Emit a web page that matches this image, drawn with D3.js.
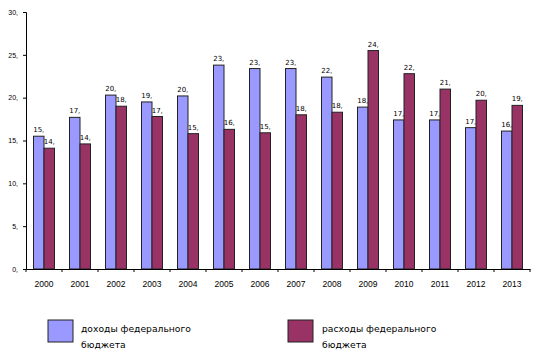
<!DOCTYPE html>
<html><head><meta charset="utf-8">
<script src="https://cdn.jsdelivr.net/npm/d3@7"></script>
<style>body{margin:0;background:#fff}svg{display:block;font-family:"DejaVu Sans",Verdana,sans-serif}</style>
</head><body>
<svg id="c" width="541" height="358"></svg>
<script>
const years = ["2000","2001","2002","2003","2004","2005","2006","2007","2008","2009","2010","2011","2012","2013"];
const revenues = [15.5,17.7,20.3,19.5,20.2,23.8,23.4,23.4,22.4,18.9,17.4,17.4,16.5,16.1];
const expenses = [14.1,14.6,19.0,17.8,15.8,16.3,15.9,18.0,18.3,25.5,22.8,21.0,19.7,19.1];
const revLabels = ["15,","17,","20,","19,","20,","23,","23,","23,","22,","18,","17,","17,","17,","16,"];
const expLabels = ["14,","14,","18,","17,","15,","16,","15,","18,","18,","24,","22,","21,","20,","19,"];
const yTicks = [0,5,10,15,20,25,30];
const seriesNames = [["доходы федерального","бюджета"],["расходы федерального","бюджета"]];
const colors = ["#9999ff","#993366"];

const svg = d3.select("#c");
const x0 = 26, x1 = 530, yTop = 12, yBot = 269;
const x = d3.scaleBand().domain(years).range([x0,x1]);
const y = d3.scaleLinear().domain([0,30]).range([yBot,yTop]);
const bw = 10.5;

// y axis
const ya = svg.append("g").attr("transform",`translate(${x0},0)`)
  .call(d3.axisLeft(y).tickValues(yTicks).tickSize(3).tickFormat(d=>d+","));
ya.select(".domain").attr("stroke","#000");
ya.selectAll("text").attr("font-size",7).attr("fill","#000").attr("x",-8);

// bars
const series = [revenues, expenses];
const labels = [revLabels, expLabels];
series.forEach((vals,si)=>{
  const g = svg.append("g");
  g.selectAll("rect").data(vals).join("rect")
    .attr("x",(d,i)=>x(years[i])+x.bandwidth()/2 - bw + si*bw)
    .attr("y",d=>y(d))
    .attr("width",bw)
    .attr("height",d=>yBot-y(d))
    .attr("fill",colors[si])
    .attr("stroke","#222").attr("stroke-width",1);
  g.selectAll("text").data(vals).join("text")
    .attr("x",(d,i)=>x(years[i])+x.bandwidth()/2 - bw/2 + si*bw)
    .attr("y",d=>y(d)-4)
    .attr("text-anchor","middle")
    .attr("font-size",7).attr("fill","#000")
    .text((d,i)=>labels[si][i]);
});

// x axis
const xa = svg.append("g").attr("transform",`translate(0,${yBot})`)
  .call(d3.axisBottom(x).tickSize(0).tickFormat(d=>d));
xa.select(".domain").attr("stroke","#000");
xa.selectAll("text").attr("font-size",8.5).attr("fill","#000").attr("y",12);
const bounds = years.map(d=>x(d)).concat([x1]);
svg.append("g").selectAll("line").data(bounds).join("line")
  .attr("x1",d=>d).attr("x2",d=>d).attr("y1",yBot).attr("y2",yBot+3)
  .attr("stroke","#000");

// legend
const leg = [{sx:48,tx:81},{sx:288,tx:322}];
leg.forEach((l,i)=>{
  svg.append("rect").attr("x",l.sx).attr("y",320).attr("width",25).attr("height",22)
    .attr("fill",colors[i]).attr("stroke","#222");
  seriesNames[i].forEach((t,j)=>{
    svg.append("text").attr("x",l.tx).attr("y",332+j*16).attr("font-size",9.2).attr("fill","#000").text(t);
  });
});
</script>
</body></html>
